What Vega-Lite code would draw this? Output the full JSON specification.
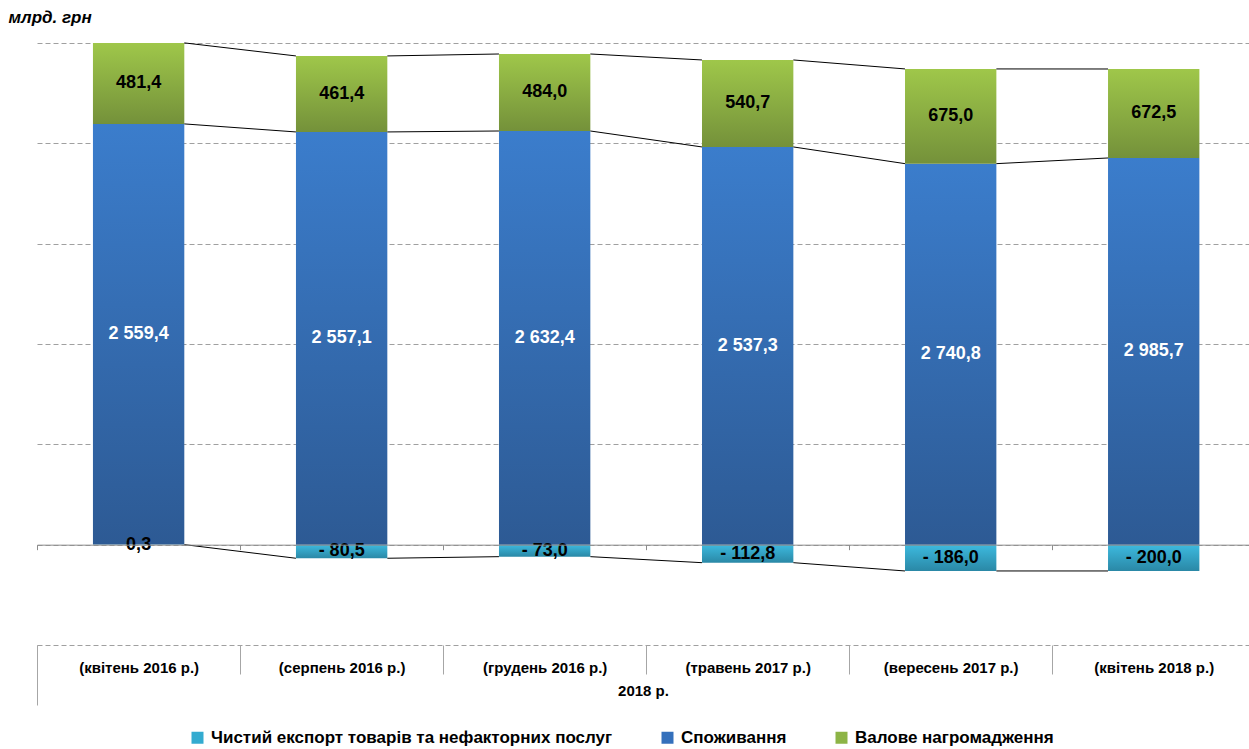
{
  "$schema": "https://vega.github.io/schema/vega-lite/v6.json",
  "width": 1212,
  "height": 602,
  "autosize": {"type": "none"},
  "padding": {"left": 37, "top": 43, "right": 0, "bottom": 104},
  "background": "white",
  "config": {"view": {"stroke": null}, "font": "Liberation Sans"},
  "data": {
    "values": [
      {"period": "(квітень 2016 р.)", "date": "2016-04", "series": "Чистий експорт товарів та нефакторних послуг", "share": 0.01, "label": "0,3"},
      {"period": "(квітень 2016 р.)", "date": "2016-04", "series": "Споживання", "share": 83.86, "label": "2 559,4"},
      {"period": "(квітень 2016 р.)", "date": "2016-04", "series": "Валове нагромадження", "share": 16.15, "label": "481,4"},
      {"period": "(серпень 2016 р.)", "date": "2016-08", "series": "Чистий експорт товарів та нефакторних послуг", "share": -2.71, "label": "- 80,5"},
      {"period": "(серпень 2016 р.)", "date": "2016-08", "series": "Споживання", "share": 82.27, "label": "2 557,1"},
      {"period": "(серпень 2016 р.)", "date": "2016-08", "series": "Валове нагромадження", "share": 15.15, "label": "461,4"},
      {"period": "(грудень 2016 р.)", "date": "2016-12", "series": "Чистий експорт товарів та нефакторних послуг", "share": -2.39, "label": "- 73,0"},
      {"period": "(грудень 2016 р.)", "date": "2016-12", "series": "Споживання", "share": 82.46, "label": "2 632,4"},
      {"period": "(грудень 2016 р.)", "date": "2016-12", "series": "Валове нагромадження", "share": 15.35, "label": "484,0"},
      {"period": "(травень 2017 р.)", "date": "2017-05", "series": "Чистий експорт товарів та нефакторних послуг", "share": -3.59, "label": "- 112,8"},
      {"period": "(травень 2017 р.)", "date": "2017-05", "series": "Споживання", "share": 79.28, "label": "2 537,3"},
      {"period": "(травень 2017 р.)", "date": "2017-05", "series": "Валове нагромадження", "share": 17.34, "label": "540,7"},
      {"period": "(вересень 2017 р.)", "date": "2017-09", "series": "Чистий експорт товарів та нефакторних послуг", "share": -5.24, "label": "- 186,0"},
      {"period": "(вересень 2017 р.)", "date": "2017-09", "series": "Споживання", "share": 75.95, "label": "2 740,8"},
      {"period": "(вересень 2017 р.)", "date": "2017-09", "series": "Валове нагромадження", "share": 18.88, "label": "675,0"},
      {"period": "(квітень 2018 р.)", "date": "2018-04", "series": "Чистий експорт товарів та нефакторних послуг", "share": -5.24, "label": "- 200,0"},
      {"period": "(квітень 2018 р.)", "date": "2018-04", "series": "Споживання", "share": 77.08, "label": "2 985,7"},
      {"period": "(квітень 2018 р.)", "date": "2018-04", "series": "Валове нагромадження", "share": 17.74, "label": "672,5"}
    ]
  },
  "transform": [
    {"stack": "share", "groupby": ["period"], "sort": [{"field": "series", "order": "descending"}], "as": ["y0", "y1"]}
  ],
  "resolve": {"scale": {"x": "shared", "y": "shared"}, "axis": {"x": "independent", "y": "independent"}},
  "layer": [
    {
      "mark": {"type": "bar"},
      "encoding": {
        "x": {
          "field": "period", "type": "nominal",
          "scale": {
            "domain": ["(квітень 2016 р.)", "(серпень 2016 р.)", "(грудень 2016 р.)", "(травень 2017 р.)", "(вересень 2017 р.)", "(квітень 2018 р.)"],
            "paddingInner": 0.55, "paddingOuter": 0.26, "align": 0.53
          },
          "axis": {
            "orient": "bottom", "offset": -100.33, "title": null, "labels": false,
            "domain": true, "domainColor": "#8c8c8c", "domainWidth": 1,
            "ticks": true, "bandPosition": 0, "tickOffset": -55.8, "tickSize": 5, "tickColor": "#8c8c8c", "tickWidth": 1,
            "grid": false, "zindex": 1
          }
        },
        "y": {
          "field": "y0", "type": "quantitative",
          "scale": {"domain": [-20, 100], "nice": false, "zero": false},
          "axis": {
            "orient": "left",
            "title": "млрд. грн", "titleAngle": 0, "titleX": -29, "titleY": -21,
            "titleAlign": "left", "titleBaseline": "alphabetic",
            "titleFont": "Liberation Sans", "titleFontSize": 17, "titleFontWeight": "bold", "titleFontStyle": "italic", "titleColor": "#000000",
            "labels": false, "ticks": false, "domain": false,
            "grid": true, "gridDash": [5, 3], "gridColor": "#a0a0a0", "gridWidth": 1,
            "values": [-20, 0, 20, 40, 60, 80, 100]
          }
        },
        "y2": {"field": "y1"},
        "fill": {
          "condition": [
            {"test": "datum.series === 'Споживання'", "value": {"gradient": "linear", "x1": 0, "y1": 0, "x2": 0, "y2": 1, "stops": [{"offset": 0, "color": "#3b7dcc"}, {"offset": 1, "color": "#2d5a94"}]}},
            {"test": "datum.series === 'Валове нагромадження'", "value": {"gradient": "linear", "x1": 0, "y1": 0, "x2": 0, "y2": 1, "stops": [{"offset": 0, "color": "#9fc74a"}, {"offset": 1, "color": "#74913a"}]}}
          ],
          "value": {"gradient": "linear", "x1": 0, "y1": 0, "x2": 0, "y2": 1, "stops": [{"offset": 0, "color": "#3dbadf"}, {"offset": 1, "color": "#2a88a6"}]}
        }
      }
    },
    {
      "transform": [
        {"window": [{"op": "lead", "field": "y1", "as": "y1n"}, {"op": "lead", "field": "period", "as": "pn"}], "groupby": ["series"], "sort": [{"field": "date", "order": "ascending"}], "frame": [null, null]},
        {"filter": "datum.pn != null"}
      ],
      "mark": {"type": "rule", "color": "#000000", "strokeWidth": 1, "xOffset": 45.7, "x2Offset": -45.7},
      "encoding": {
        "x": {
          "field": "period", "type": "nominal",
          "axis": {
            "orient": "bottom", "offset": 0, "title": "2018 р.",
            "titleFont": "Liberation Sans", "titleFontSize": 15, "titleFontWeight": "bold", "titleColor": "#000000",
            "titleY": 45, "titleBaseline": "middle",
            "domain": false, "ticks": true, "bandPosition": 0, "tickOffset": -55.8, "tickSize": 29, "tickColor": "#a6a6a6", "tickWidth": 1,
            "labelFont": "Liberation Sans", "labelFontSize": 15, "labelFontWeight": "bold", "labelColor": "#000000",
            "labelBaseline": "middle", "labelPadding": -7, "labelOffset": 55.8, "labelAngle": 0, "labelLimit": 200, "grid": false
          }
        },
        "x2": {"field": "pn"},
        "y": {"field": "y1", "type": "quantitative", "axis": null},
        "y2": {"field": "y1n"}
      }
    },
    {
      "mark": {"type": "bar", "opacity": 0},
      "encoding": {
        "x": {
          "field": "period", "type": "nominal",
          "axis": {
            "orient": "bottom", "values": ["(квітень 2016 р.)"], "bandPosition": 0, "tickOffset": -55.8,
            "tickSize": 60, "tickColor": "#a6a6a6", "tickWidth": 1, "labels": false, "domain": false, "title": null, "grid": false
          }
        },
        "y": {"field": "y0", "type": "quantitative", "axis": null},
        "y2": {"field": "y1"},
        "color": {
          "field": "series", "type": "nominal",
          "scale": {
            "domain": ["Чистий експорт товарів та нефакторних послуг", "Споживання", "Валове нагромадження"],
            "range": ["#33abd0", "#3470bc", "#8db446"]
          },
          "legend": {
            "orient": "none", "legendX": 152, "legendY": 686, "direction": "horizontal", "title": null,
            "symbolType": "square", "symbolSize": 144, "symbolStrokeWidth": 0, "symbolOpacity": 1,
            "labelFont": "Liberation Sans", "labelFontSize": 17, "labelFontWeight": "bold", "labelColor": "#000000",
            "labelLimit": 600, "labelOffset": 5, "columnPadding": 46
          }
        }
      }
    },
    {
      "transform": [
        {"fold": ["y0", "y1"], "as": ["edge", "pos"]},
        {"aggregate": [{"op": "mean", "field": "pos", "as": "mid"}], "groupby": ["period", "series", "label"]}
      ],
      "mark": {"type": "text", "font": "Liberation Sans", "fontSize": 18, "fontWeight": "bold", "align": "center", "baseline": "middle"},
      "encoding": {
        "x": {"field": "period", "type": "nominal", "axis": null},
        "y": {"field": "mid", "type": "quantitative", "axis": null},
        "text": {"field": "label", "type": "nominal"},
        "color": {"condition": {"test": "datum.series === 'Споживання'", "value": "#ffffff"}, "value": "#000000"}
      }
    }
  ]
}
